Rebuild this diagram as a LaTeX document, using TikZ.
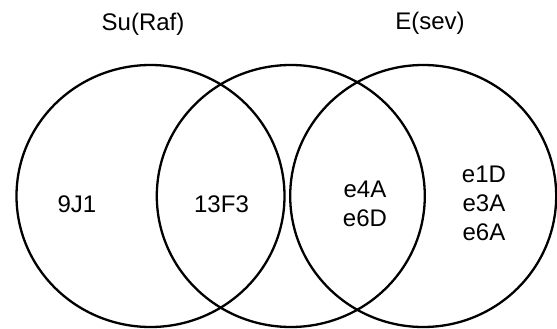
\documentclass[tikz,border=0pt]{standalone}
\usepackage{fontspec}
\setmainfont{Liberation Sans}
\begin{document}
\begin{tikzpicture}[x=1pt,y=-1pt,
  setring/.style={draw=black,line width=2.3pt},
  lbl/.style={font=\fontsize{24}{29}\selectfont,align=center,inner sep=0pt},
  ttl/.style={font=\fontsize{24}{29}\selectfont,anchor=base,inner sep=0pt}]
\useasboundingbox (0,0) rectangle (557,329);
\draw[setring] (150.5,196) ellipse [x radius=134,y radius=131];
\draw[setring] (290.8,196) ellipse [x radius=134,y radius=131];
\draw[setring] (423.2,196) ellipse [x radius=133,y radius=131];
\node[ttl] (surf) at (143,30.5) {Su(Raf)};
\node[ttl] (esev) at (430,30) {E(sev)};
\node[lbl] (n9j1) at (77,204) {9J1};
\node[lbl] (n13f3) at (221.5,204) {13F3};
\node[lbl] (nmid) at (365,204) {e4A\\e6D};
\node[lbl] (nright) at (484,203.5) {e1D\\e3A\\e6A};
\end{tikzpicture}
\end{document}
